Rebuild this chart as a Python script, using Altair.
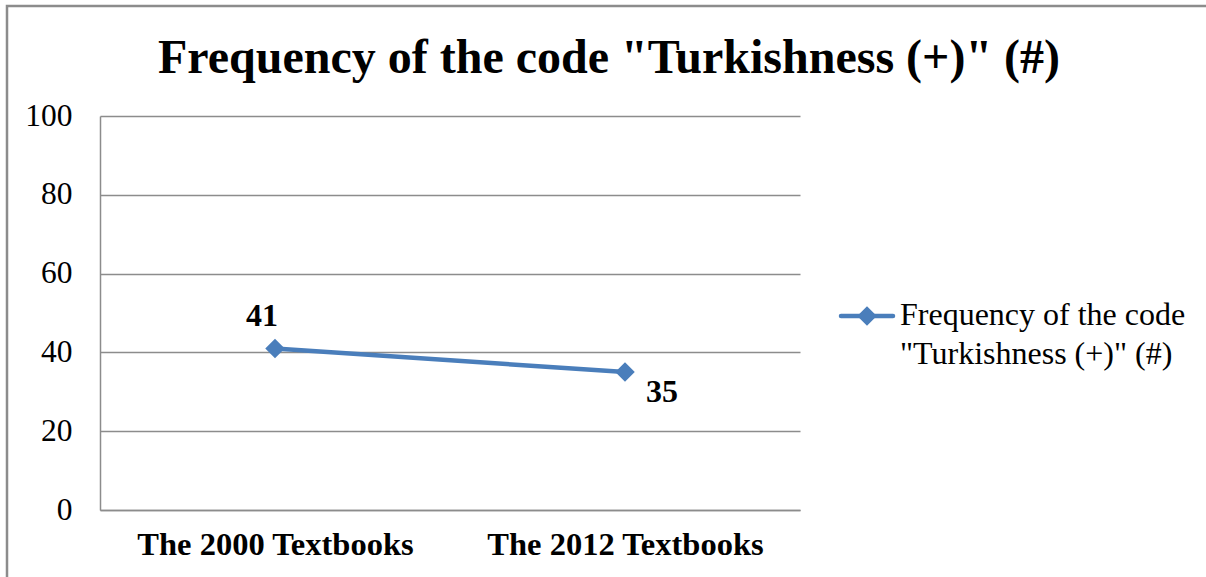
import altair as alt
import pandas as pd

categories = ["The 2000 Textbooks", "The 2012 Textbooks"]
values = [41, 35]
series_name = 'Frequency of the code "Turkishness (+)" (#)'
legend_lines = ["Frequency of the code", '"Turkishness (+)" (#)']
y_ticks = [0, 20, 40, 60, 80, 100]
title_text = 'Frequency of the code "Turkishness (+)" (#)'

FONT = "Liberation Serif"
BLUE = "#4a7ebb"
GRAY = "#8c8c8c"

df = pd.DataFrame({"category": categories, "value": values, "series": series_name})

x_enc = alt.X(
    "category:N",
    sort=categories,
    scale=alt.Scale(type="point", padding=0.5),
    axis=alt.Axis(
        title=None, labelAngle=0, ticks=False, grid=False,
        domainColor=GRAY, domainWidth=1.5, labelLimit=0,
        labelFont=FONT, labelFontSize=32.5, labelFontWeight="bold",
        labelColor="black", labelPadding=18,
    ),
)
y_enc = alt.Y(
    "value:Q",
    scale=alt.Scale(domain=[0, 100], nice=False),
    axis=alt.Axis(
        title=None, values=y_ticks, ticks=False, grid=True,
        gridColor=GRAY, gridWidth=1.5, domainColor=GRAY, domainWidth=1.5,
        labelFont=FONT, labelFontSize=31.5, labelColor="black", labelPadding=28,
    ),
)

base = alt.Chart(df)
one = base.transform_filter(alt.datum.category == categories[0])

frame = one.mark_rect(fill=None, stroke=GRAY, strokeWidth=2.5, clip=False).encode(
    x=alt.value(-93), x2=alt.value(1200), y=alt.value(-110), y2=alt.value(600)
)

title = one.mark_text(
    font=FONT, fontSize=48, fontWeight="bold", color="black", align="center", baseline="alphabetic"
).encode(x=alt.value(509), y=alt.value(-43), text=alt.value(title_text))

line = base.mark_line(color=BLUE, strokeWidth=4.5).encode(x=x_enc, y=y_enc)
pts = base.mark_point(shape="diamond", filled=True, size=380, color=BLUE, opacity=1).encode(x=x_enc, y=y_enc)

lab1 = one.mark_text(
    font=FONT, fontSize=32, fontWeight="bold", color="black", dx=-13, dy=-22, baseline="alphabetic"
).encode(x=x_enc, y=y_enc, text="value:Q")
lab2 = base.transform_filter(alt.datum.category == categories[1]).mark_text(
    font=FONT, fontSize=32, fontWeight="bold", color="black", dx=37, dy=30, baseline="alphabetic"
).encode(x=x_enc, y=y_enc, text="value:Q")

# legend
leg_df = pd.DataFrame({"line": legend_lines, "row": [0, 1]})
leg0 = alt.Chart(leg_df).transform_filter(alt.datum.row == 0)
leg1 = alt.Chart(leg_df).transform_filter(alt.datum.row == 1)
leg_rule = leg0.mark_rule(color=BLUE, strokeWidth=4.5, strokeCap="round").encode(
    x=alt.value(741), x2=alt.value(793), y=alt.value(200)
)
leg_pt = leg0.mark_point(shape="diamond", filled=True, size=380, color=BLUE, opacity=1).encode(
    x=alt.value(767), y=alt.value(200)
)
txt_kw = dict(font=FONT, fontSize=32, color="black", align="left", baseline="alphabetic")
leg_t0 = leg0.mark_text(**txt_kw).encode(x=alt.value(800), y=alt.value(209), text="line:N")
leg_t1 = leg1.mark_text(**txt_kw).encode(x=alt.value(800), y=alt.value(248), text="line:N")

chart = alt.layer(frame, title, line, pts, lab1, lab2, leg_rule, leg_pt, leg_t0, leg_t1).properties(
    width=700,
    height=394,
    background="white",
    autosize=alt.AutoSizeParams(type="none"),
    padding={"left": 100, "top": 116, "right": 406, "bottom": 67},
).configure_view(strokeWidth=0, stroke=None)

chart.save("out.html", embed_options={"renderer": "svg", "actions": False})
